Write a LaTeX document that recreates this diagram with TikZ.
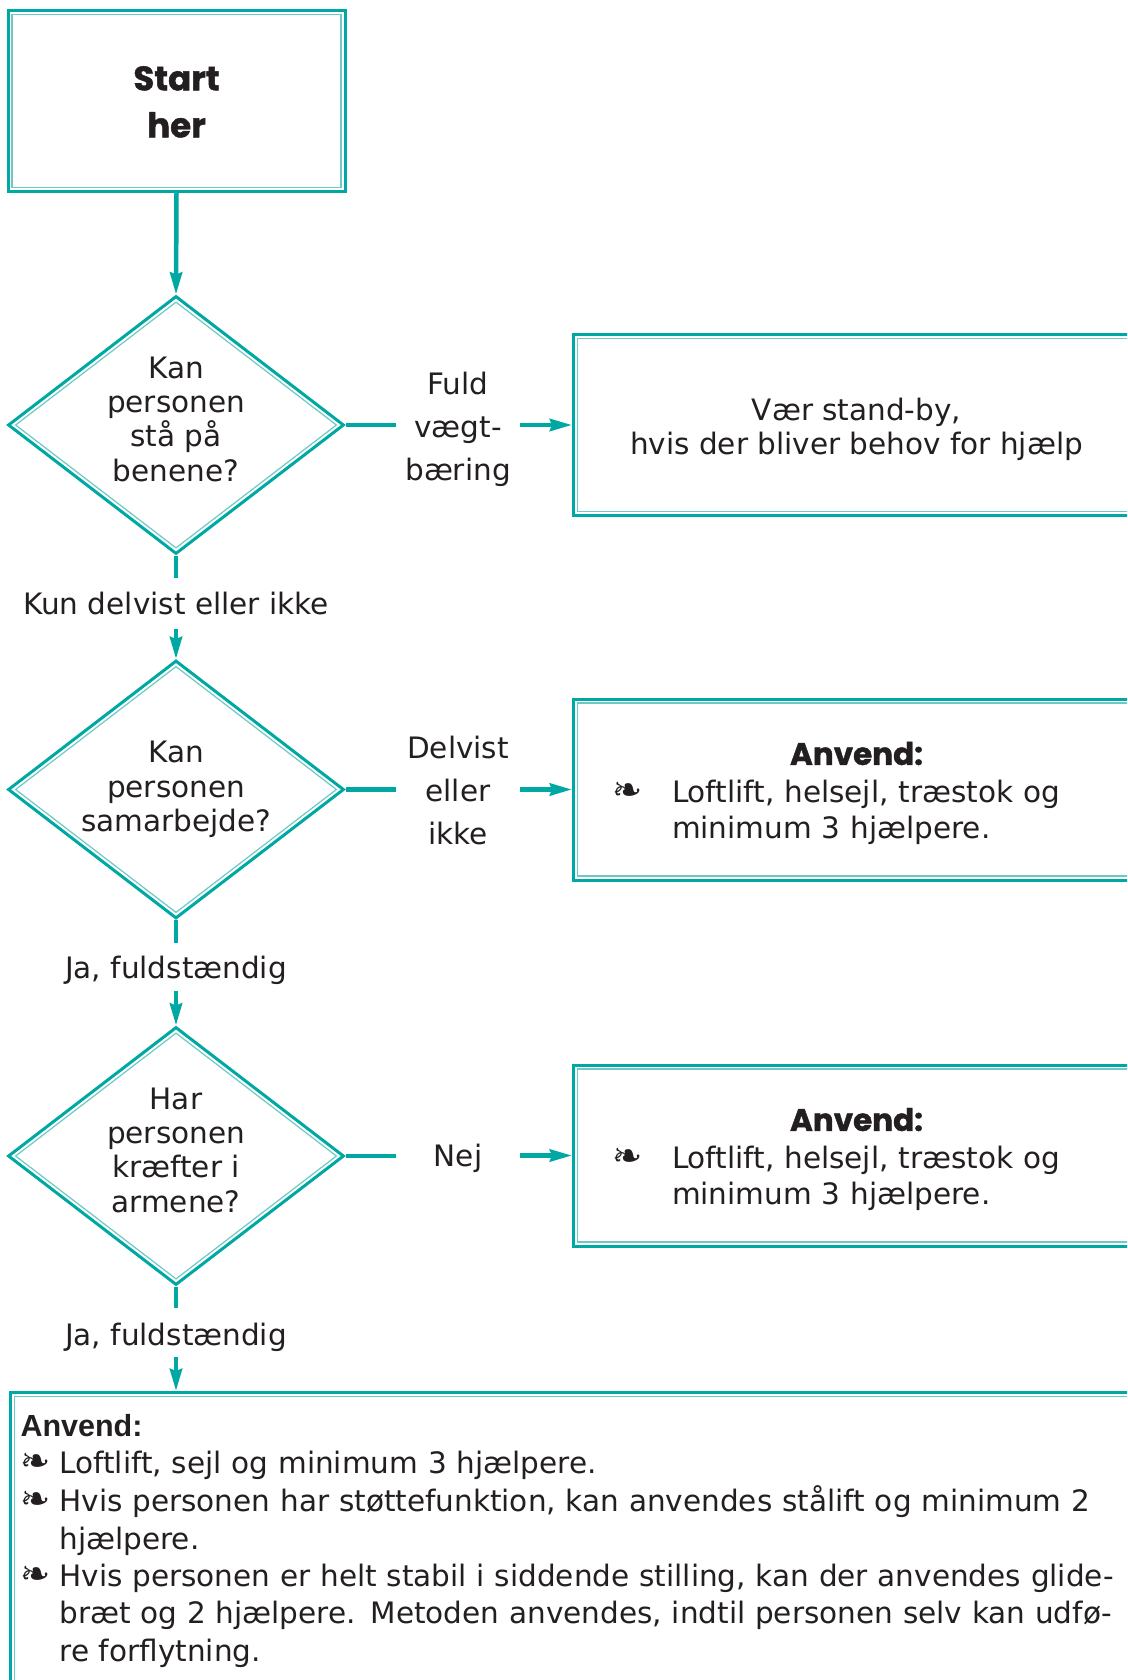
\documentclass[tikz,border=0pt]{standalone}
\usepackage{fontspec}
\setmainfont{DejaVu Sans}
\newfontfamily\heavyfont{Poppins}[BoldFeatures={FakeBold=1.3}]
\newfontfamily\arialfont{Liberation Sans}
\usetikzlibrary{shapes.geometric,arrows.meta}
\definecolor{tl}{RGB}{0,168,163}
\definecolor{tllight}{RGB}{110,200,196}
\definecolor{ink}{RGB}{35,31,32}
\newcommand{\bul}{{\fontsize{36}{36}\selectfont ❧}}
\begin{document}
\begin{tikzpicture}[x=1pt,y=-1pt,
  box/.style={draw=tl, line width=3pt, fill=white, inner sep=0pt, text=ink,
    path picture={\draw[tllight,line width=1.2pt]
      ([shift={(4pt,4pt)}]path picture bounding box.south west) rectangle
      ([shift={(-4pt,-4pt)}]path picture bounding box.north east);}},
  dia/.style={diamond, shape aspect=1.3, draw=tl, line width=3pt, fill=white, inner sep=0pt,
    minimum width=336pt, minimum height=258pt, align=center, text=ink,
    font=\fontsize{29.5}{34.3}\selectfont,
    path picture={\draw[tllight,line width=1.2pt]
      ([yshift=-5.5pt]path picture bounding box.north) --
      ([xshift=-7pt]path picture bounding box.east) --
      ([yshift=5.5pt]path picture bounding box.south) --
      ([xshift=7pt]path picture bounding box.west) -- cycle;}},
  sidebox/.style={box, minimum width=566pt, minimum height=181pt},
  lab/.style={inner sep=0pt, align=center, text=ink, font=\fontsize{29.5}{43}\selectfont},
  conn/.style={draw=tl, line width=4.5pt},
  arr/.style={conn, -{Stealth[length=22pt,width=12pt,inset=2pt]}}]
\fill[white] (0,0) rectangle (1127,1680);
\clip (0,0) rectangle (1127,1680);

\node[box, minimum width=337pt, minimum height=181pt, align=center,
  font=\heavyfont\bfseries\fontsize{34}{47}\selectfont] (start) at (176.5,101) {\mbox{}\\[-21pt]Start\\her};

\node[dia] (d1) at (176,425) {Kan\\personen\\stå på\\benene?\\[-22pt]\mbox{}};
\node[dia] (d2) at (176,789.5) {Kan\\personen\\samarbejde?};
\node[dia] (d3) at (176,1156) {Har\\personen\\kræfter i\\armene?\\[-22pt]\mbox{}};

\node[sidebox, align=center, font=\fontsize{29.5}{34.5}\selectfont] (b1) at (856.5,425)
  {\mbox{}\\[-3.5pt]Vær stand-by,\\hvis der bliver behov for hjælp};
\node[sidebox, text width=489pt, align=left, font=\fontsize{29.5}{36.4}\selectfont] (b2) at (856.5,789.5)
  {\mbox{}\\[-5.7pt]\makebox[\linewidth]{\heavyfont\bfseries\fontsize{31}{36}\selectfont Anvend:}\\[1pt]
   \makebox[60pt][l]{\bul}Loftlift, helsejl, træstok og\\
   \hspace*{60pt}minimum 3 hjælpere.};
\node[sidebox, text width=489pt, align=left, font=\fontsize{29.5}{36.4}\selectfont] (b3) at (856.5,1155.5)
  {\mbox{}\\[-5.7pt]\makebox[\linewidth]{\heavyfont\bfseries\fontsize{31}{36}\selectfont Anvend:}\\[1pt]
   \makebox[60pt][l]{\bul}Loftlift, helsejl, træstok og\\
   \hspace*{60pt}minimum 3 hjælpere.};

\node[box, anchor=north west, inner xsep=10pt, text width=1150pt, minimum height=297pt,
  align=left, font=\fontsize{29.5}{37.5}\selectfont] (b4) at (9,1391)
  {{\arialfont\bfseries\fontsize{30.5}{37.5}\selectfont Anvend:}\\
   \makebox[39pt][l]{\bul}Loftlift, sejl og minimum 3 hjælpere.\\
   \makebox[39pt][l]{\bul}Hvis personen har støttefunktion, kan anvendes stålift og minimum 2\\
   \hspace*{39pt}hjælpere.\\
   \makebox[39pt][l]{\bul}Hvis personen er helt stabil i siddende stilling, kan der anvendes glide-\\
   \hspace*{39pt}bræt og 2 hjælpere. Metoden anvendes, indtil personen selv kan udfø-\\
   \hspace*{39pt}re forflytning.};

\node[lab, minimum width=124pt] (r1) at (458,429) {Fuld\\vægt-\\bæring};
\node[lab, minimum width=124pt] (r2) at (458,790.5) {Delvist\\eller\\ikke};
\node[lab, minimum width=124pt, text height=28.8pt, text depth=7pt] (r3) at (458,1156) {Nej};

\node[lab, minimum height=51pt] (v1) at (176,603.5) {Kun delvist eller ikke};
\node[lab, minimum height=48pt, text height=30.4pt, text depth=7pt] (v2) at (176,967) {Ja, fuldstændig};
\node[lab, minimum height=49pt, text height=33.2pt, text depth=7pt] (v3) at (176,1332.5) {Ja, fuldstændig};

\draw[arr] (start.south) -- (d1.north);
\draw[conn] (d1.south) -- (v1.north);
\draw[arr] (v1.south) -- (d2.north);
\draw[conn] (d2.south) -- (v2.north);
\draw[arr] (v2.south) -- (d3.north);
\draw[conn] (d3.south) -- (v3.north);
\draw[arr] (v3.south) -- (b4.north -| v3.south);

\draw[conn] (d1.east) -- (d1.east -| r1.west);
\draw[arr] (r1.east |- b1.west) -- (b1.west);
\draw[conn] (d2.east) -- (d2.east -| r2.west);
\draw[arr] (r2.east |- b2.west) -- (b2.west);
\draw[conn] (d3.east) -- (d3.east -| r3.west);
\draw[arr] (r3.east |- b3.west) -- (b3.west);
\end{tikzpicture}
\end{document}
